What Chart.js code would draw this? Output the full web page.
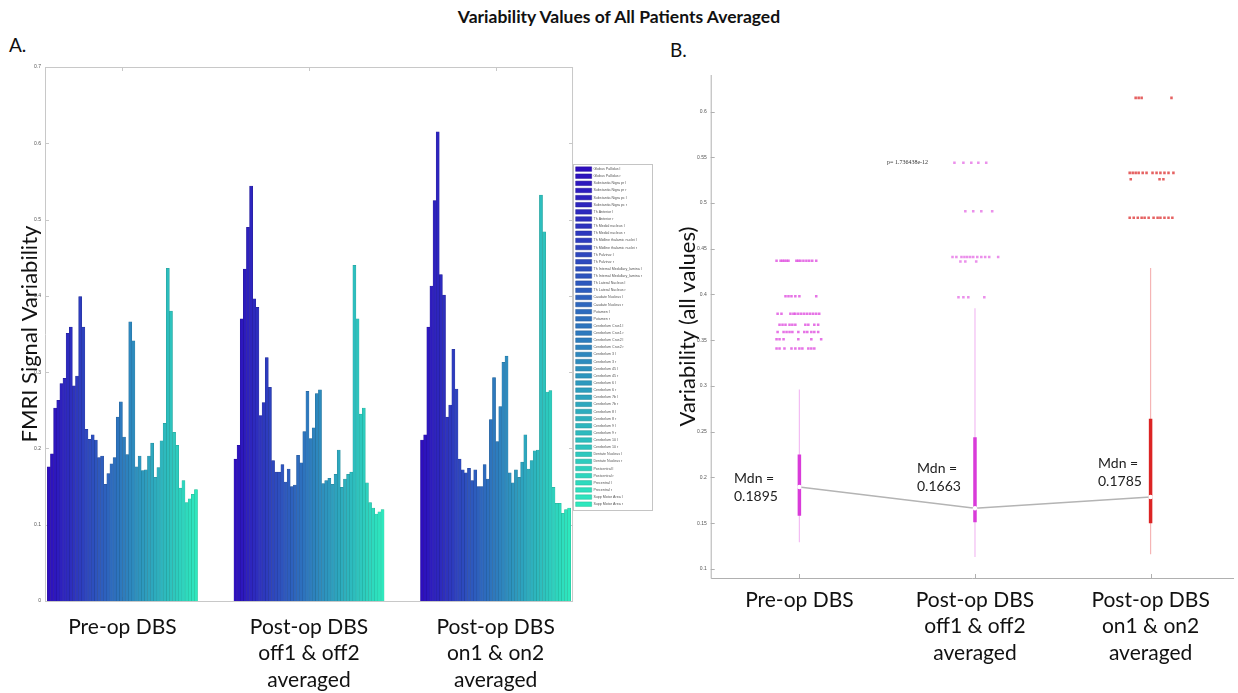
<!DOCTYPE html>
<html>
<head>
<meta charset="utf-8">
<script src="https://cdn.jsdelivr.net/npm/chart.js@4.4.1/dist/chart.umd.min.js"></script>
<style>
  body { margin: 0; background: #fff; width: 1238px; height: 693px; overflow: hidden; position: relative; font-family: Lato, sans-serif; color: #111; }
  #title { position: absolute; top: 6px; left: 0; width: 1238px; text-align: center; font-weight: bold; font-size: 17.5px; }
  #canvasA { position: absolute; left: 0; top: 0; }
  #canvasB { position: absolute; left: 660px; top: 0; }
  .tag { position: absolute; font-size: 19px; }
  .mdn { position: absolute; font-size: 14px; line-height: 17.7px; color: #222; }
  #pval { position: absolute; left: 887px; top: 159px; font-size: 6px; font-family: 'Liberation Serif', serif; color: #333; }
</style>
</head>
<body>
<div id="title">Variability Values of All Patients Averaged</div>
<div class="tag" style="left:9px; top:33px;">A.</div>
<div class="tag" style="left:670px; top:38px;">B.</div>
<canvas id="canvasA" width="660" height="693"></canvas>
<canvas id="canvasB" width="578" height="693"></canvas>
<div class="mdn" style="left:734px; top:469px;">Mdn =<br>0.1895</div>
<div class="mdn" style="left:917px; top:459px;">Mdn =<br>0.1663</div>
<div class="mdn" style="left:1098px; top:454px;">Mdn =<br>0.1785</div>
<div id="pval">p= 1.736438e-12</div>
<script>
// ---- panel A data ----
const groupLabels = [['Pre-op DBS'], ['Post-op DBS', 'off1 & off2', 'averaged'], ['Post-op DBS', 'on1 & on2', 'averaged']];
const groupTicks = [0, 1, 2];
const yTicksA = [0, 0.1, 0.2, 0.3, 0.4, 0.5, 0.6, 0.7];

const regions = ['Globus Pallidus l', 'Globus Pallidus r', 'Substantia Nigra pr l', 'Substantia Nigra pr r',
  'Substantia Nigra pc l', 'Substantia Nigra pc r', 'Th Anterior l', 'Th Anterior r', 'Th Medial nucleus l',
  'Th Medial nucleus r', 'Th Midline thalamic nuclei l', 'Th Midline thalamic nuclei r', 'Th Pulvinar l',
  'Th Pulvinar r', 'Th Internal Medullary_lamina l', 'Th Internal Medullary_lamina r', 'Th Lateral Nucleus l',
  'Th Lateral Nucleus r', 'Caudate Nucleus l', 'Caudate Nucleus r', 'Putamen l', 'Putamen r',
  'Cerebelum Crus1 l', 'Cerebelum Crus1 r', 'Cerebelum Crus2 l', 'Cerebelum Crus2 r', 'Cerebelum 3 l',
  'Cerebelum 3 r', 'Cerebelum 45 l', 'Cerebelum 45 r', 'Cerebelum 6 l', 'Cerebelum 6 r', 'Cerebelum 7b l',
  'Cerebelum 7b r', 'Cerebelum 8 l', 'Cerebelum 8 r', 'Cerebelum 9 l', 'Cerebelum 9 r', 'Cerebelum 10 l',
  'Cerebelum 10 r', 'Dentate Nucleus l', 'Dentate Nucleus r', 'Postcentral l', 'Postcentral r',
  'Precentral l', 'Precentral r', 'Supp Motor Area l', 'Supp Motor Area r'];

const preOp = [0.176, 0.193, 0.253, 0.263, 0.285, 0.292, 0.351, 0.359, 0.282, 0.295, 0.399, 0.359,
  0.225, 0.212, 0.218, 0.211, 0.188, 0.190, 0.153, 0.167, 0.180, 0.188, 0.241, 0.261,
  0.215, 0.192, 0.366, 0.341, 0.176, 0.190, 0.171, 0.172, 0.190, 0.207, 0.162, 0.175,
  0.210, 0.233, 0.436, 0.380, 0.221, 0.204, 0.148, 0.158, 0.129, 0.134, 0.140, 0.146];
const postOff = [0.186, 0.204, 0.370, 0.435, 0.490, 0.544, 0.396, 0.385, 0.243, 0.260, 0.319, 0.280,
  0.184, 0.169, 0.169, 0.179, 0.156, 0.173, 0.150, 0.152, 0.191, 0.181, 0.222, 0.275,
  0.213, 0.227, 0.272, 0.277, 0.154, 0.158, 0.161, 0.153, 0.166, 0.198, 0.149, 0.160,
  0.166, 0.169, 0.440, 0.370, 0.245, 0.253, 0.155, 0.129, 0.122, 0.114, 0.117, 0.120];
const postOn = [0.211, 0.218, 0.359, 0.413, 0.525, 0.615, 0.428, 0.401, 0.241, 0.257, 0.330, 0.278,
  0.186, 0.172, 0.168, 0.174, 0.158, 0.172, 0.150, 0.150, 0.179, 0.160, 0.238, 0.293,
  0.209, 0.255, 0.313, 0.321, 0.168, 0.155, 0.172, 0.162, 0.182, 0.218, 0.173, 0.184,
  0.197, 0.198, 0.532, 0.484, 0.274, 0.276, 0.149, 0.128, 0.128, 0.115, 0.120, 0.122];

// ---- panel B data ----
const boxLabels = [['Pre-op DBS'], ['Post-op DBS', 'off1 & off2', 'averaged'], ['Post-op DBS', 'on1 & on2', 'averaged']];
const boxX = [1, 2, 3];
const yTicksB = [0.1, 0.15, 0.2, 0.25, 0.3, 0.35, 0.4, 0.45, 0.5, 0.55, 0.6];
const whiskerLow = [0.129, 0.113, 0.116];
const whiskerHigh = [0.296, 0.385, 0.429];
const q1 = [0.158, 0.151, 0.150];
const q3 = [0.225, 0.244, 0.264];
const medians = [0.1895, 0.1663, 0.1785];
// outliers: [value, horizontal jitter offsets]
const preOutliers = [
  [0.437, [-0.13, -0.107, -0.096, -0.085, -0.073, -0.062, -0.017, -0.006, 0.006, 0.023, 0.04, 0.056, 0.073, 0.096]],
  [0.398, [-0.079, -0.062, -0.045, -0.023, 0, 0.096]],
  [0.379, [-0.124, -0.102, -0.051, -0.034, -0.023, -0.006, 0.011, 0.028, 0.045, 0.062, 0.079, 0.096, 0.113]],
  [0.367, [-0.113, -0.096, -0.079, -0.056, -0.04, -0.023, 0.034, 0.051, 0.085, 0.107]],
  [0.359, [-0.124, -0.09, -0.073, -0.056, -0.04, -0.006, 0.028, 0.045, 0.068, 0.085, 0.107]],
  [0.351, [-0.13, -0.113, -0.09, -0.006, 0.068, 0.124]],
  [0.341, [-0.13, -0.113, -0.085, -0.045, -0.023, 0, 0.017, 0.051, 0.068, 0.085]]
];
const offOutliers = [
  [0.544, [-0.117, -0.066, -0.021, 0.019, 0.064]],
  [0.491, [-0.055, -0.01, 0.036, 0.098]],
  [0.441, [-0.128, -0.106, -0.077, -0.06, -0.044, -0.027, -0.01, 0.013, 0.036, 0.058, 0.081, 0.132]],
  [0.436, [-0.083, -0.055, 0.007]],
  [0.397, [-0.094, -0.066, -0.038, 0.053]]
];
const onOutliers = [
  [0.615, [-0.085, -0.068, -0.051, 0.119]],
  [0.533, [-0.119, -0.102, -0.085, -0.068, -0.045, -0.023, 0.011, 0.034, 0.056, 0.079, 0.102, 0.13]],
  [0.526, [-0.113, 0.051, 0.073]],
  [0.484, [-0.119, -0.096, -0.073, -0.051, -0.034, -0.011, 0.017, 0.04, 0.056, 0.079, 0.102, 0.124]]
];

// frame + inward ticks, matlab style
const framePlugin = {
  id: 'frame',
  beforeDatasetsDraw(chart, args, opts) {
    const { ctx, chartArea: a, scales } = chart;
    ctx.save();
    ctx.strokeStyle = opts.color;
    ctx.lineWidth = 1;
    ctx.beginPath();
    if (opts.box) {
      ctx.rect(a.left + 0.5, a.top + 0.5, a.right - a.left - 1, a.bottom - a.top);
    } else {
      ctx.moveTo(a.left + 0.5, a.top);
      ctx.lineTo(a.left + 0.5, a.bottom + 0.5);
      ctx.lineTo(a.right, a.bottom + 0.5);
    }
    scales.y.ticks.forEach(t => {
      const y = Math.round(scales.y.getPixelForValue(t.value)) + 0.5;
      ctx.moveTo(a.left, y); ctx.lineTo(a.left + 4, y);
      if (opts.box) { ctx.moveTo(a.right, y); ctx.lineTo(a.right - 4, y); }
    });
    scales.x.ticks.forEach(t => {
      const x = Math.round(scales.x.getPixelForValue(t.value)) + 0.5;
      ctx.moveTo(x, a.bottom); ctx.lineTo(x, a.bottom - 4);
      if (opts.box) { ctx.moveTo(x, a.top); ctx.lineTo(x, a.top + 4); }
    });
    ctx.stroke();
    ctx.restore();
  }
};

const legendBoxPlugin = {
  id: 'legendBox',
  afterDraw(chart) {
    const lg = chart.legend;
    if (!lg || !lg.legendHitBoxes.length) return;
    const hb = lg.legendHitBoxes;
    const top = hb[0].top - 3;
    const bottom = hb[hb.length - 1].top + hb[hb.length - 1].height + 3;
    const { ctx } = chart;
    ctx.save();
    ctx.strokeStyle = '#c4c4c4';
    ctx.lineWidth = 1;
    ctx.strokeRect(Math.round(hb[0].left) - 2.5, Math.round(top) + 0.5, 79, Math.round(bottom - top));
    ctx.restore();
  }
};

const groupValues = [preOp, postOff, postOn];
const barDatasets = regions.map((name, i) => {
  const g = 14 + 218 * i / (regions.length - 1);
  return {
    label: name,
    data: groupTicks.map((t, k) => ({ x: t, y: groupValues[k][i] })),
    backgroundColor: `rgb(45, ${Math.round(g)}, 190)`,
    borderColor: `rgb(38, ${Math.round(g * 0.82)}, 150)`,
    borderWidth: 0.5,
    borderSkipped: 'start',
    inflateAmount: 0.3,
    categoryPercentage: 0.805,
    barPercentage: 1
  };
});

new Chart(document.getElementById('canvasA'), {
  type: 'bar',
  data: { datasets: barDatasets },
  plugins: [framePlugin, legendBoxPlugin],
  options: {
    responsive: false,
    animation: false,
    layout: { padding: { top: 67, right: 8, bottom: 0, left: 0 } },
    plugins: {
      tooltip: { enabled: false },
      frame: { color: '#c8c8c8', box: true },
      legend: {
        position: 'right',
        align: 'start',
        maxWidth: 80,
        title: { display: true, text: ' ', font: { size: 1 }, padding: { top: 96, bottom: 0 } },
        labels: {
          boxWidth: 16, boxHeight: 4.5, padding: 2.63,
          font: { family: 'Liberation Sans', size: 3.6 }, color: '#555'
        }
      }
    },
    scales: {
      x: {
        type: 'linear', min: -0.415, max: 2.415, offset: false,
        afterBuildTicks: s => { s.ticks = groupTicks.map(v => ({ value: v })); },
        afterFit: s => { s.height = 92; },
        ticks: {
          callback: v => groupLabels[v], autoSkip: false, maxRotation: 0,
          font: { family: 'Lato', size: 21, lineHeight: 1.26 }, color: '#111', padding: 13
        },
        grid: { display: false, drawTicks: false },
        border: { display: false }
      },
      y: {
        min: 0, max: 0.7,
        afterBuildTicks: s => { s.ticks = yTicksA.map(v => ({ value: v })); },
        afterFit: s => { s.width = 45; },
        ticks: { callback: v => String(v), font: { family: 'Liberation Sans', size: 5 }, color: '#555', padding: 4 },
        grid: { display: false, drawTicks: false },
        border: { display: false },
        title: { display: true, text: 'FMRI Signal Variability', font: { family: 'Lato', size: 22 }, color: '#111', padding: { top: 17, bottom: 0 } }
      }
    }
  }
});

// ---- panel B ----
const boxColors = ['#d93bd9', '#d93bd9', '#dc2424'];
const whiskerColors = ['#f3bcf3', '#f3bcf3', '#f5b5b5'];
const pointColors = ['rgba(222, 70, 222, 0.75)', 'rgba(222, 70, 222, 0.6)', 'rgba(220, 45, 45, 0.75)'];
const outlierRows = [preOutliers, offOutliers, onOutliers];
const dsB = [];
boxX.forEach((x, g) => {
  dsB.push({ data: [{ x, y: whiskerLow[g] }, { x, y: whiskerHigh[g] }], showLine: true,
    borderColor: whiskerColors[g], borderWidth: 1.2, pointRadius: 0, order: 6 });
  dsB.push({ data: [{ x, y: q1[g] }, { x, y: q3[g] }], showLine: true, borderCapStyle: 'butt',
    borderColor: boxColors[g], borderWidth: 3.5, pointRadius: 0, order: 4 });
  const pts = [];
  outlierRows[g].forEach(([v, dxs]) => dxs.forEach(dx => pts.push({ x: x + dx, y: v })));
  dsB.push({ data: pts, pointStyle: 'rect', pointRadius: 1.8, backgroundColor: pointColors[g],
    borderWidth: 0, order: 1 });
});
const medianPts = boxX.map((x, g) => ({ x, y: medians[g] }));
dsB.push({ data: medianPts, showLine: true, borderColor: '#b4b4b4', borderWidth: 1.5, pointRadius: 0, order: 5 });
dsB.push({ data: medianPts, pointRadius: 2.2, backgroundColor: '#fff', borderWidth: 0, order: 2 });

new Chart(document.getElementById('canvasB'), {
  type: 'scatter',
  data: { datasets: dsB },
  plugins: [framePlugin],
  options: {
    responsive: false,
    animation: false,
    layout: { padding: { top: 75, right: 0, bottom: 0, left: 0 } },
    plugins: {
      legend: { display: false },
      tooltip: { enabled: false },
      frame: { color: '#b0b0b0', box: false }
    },
    scales: {
      x: {
        type: 'linear', min: 0.495, max: 3.475,
        afterBuildTicks: s => { s.ticks = boxX.map(v => ({ value: v })); },
        afterFit: s => { s.height = 115; },
        ticks: {
          callback: v => boxLabels[v - 1], autoSkip: false, maxRotation: 0,
          font: { family: 'Lato', size: 21, lineHeight: 1.26 }, color: '#111', padding: 9
        },
        grid: { display: false, drawTicks: false },
        border: { display: false }
      },
      y: {
        min: 0.09, max: 0.64,
        afterBuildTicks: s => { s.ticks = yTicksB.map(v => ({ value: v })); },
        afterFit: s => { s.width = 50.7; },
        ticks: { callback: v => String(v), font: { family: 'Liberation Sans', size: 5 }, color: '#555', padding: 4 },
        grid: { display: false, drawTicks: false },
        border: { display: false },
        title: { display: true, text: 'Variability (all values)', font: { family: 'Lato', size: 22 }, color: '#111', padding: { top: 15, bottom: 0 } }
      }
    }
  }
});
</script>
</body>
</html>
